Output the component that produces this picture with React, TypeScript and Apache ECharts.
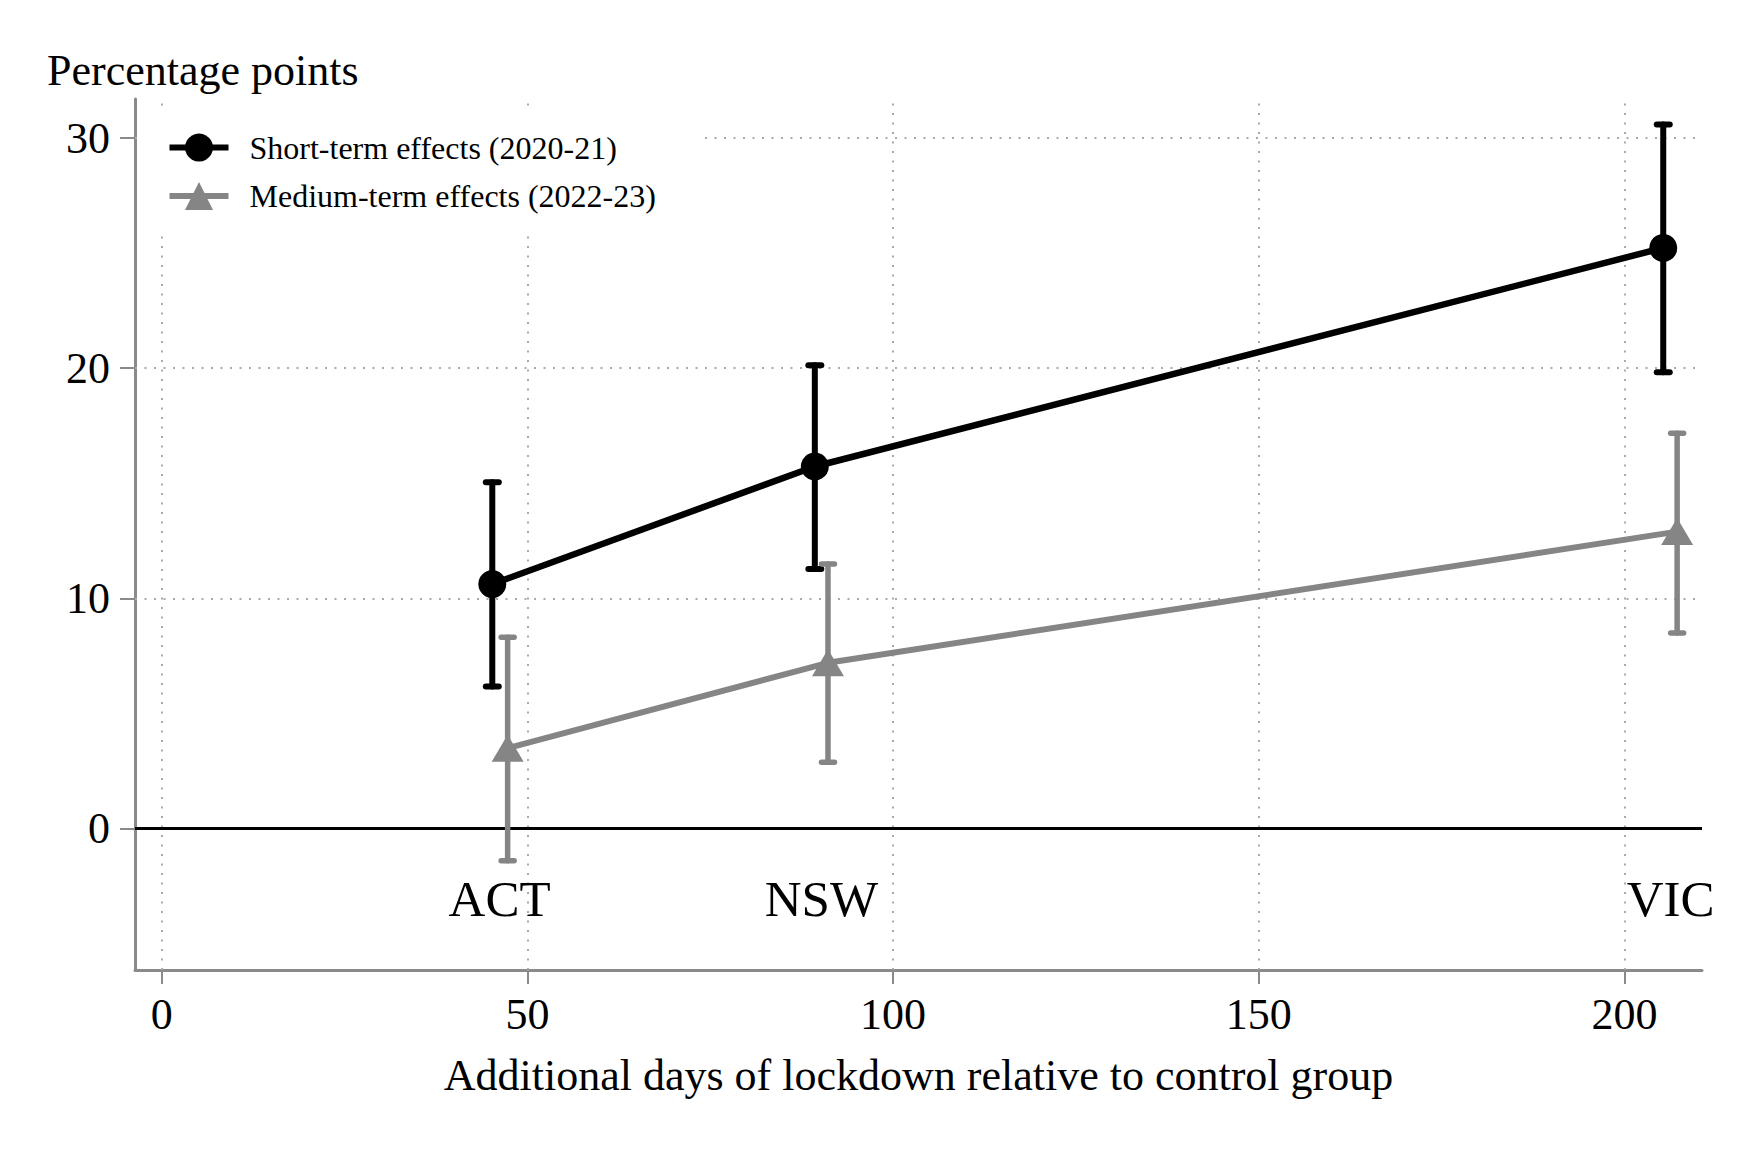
import React, { useEffect, useRef } from "react";
import * as echarts from "echarts";

const FONT = "'Liberation Serif', 'Times New Roman', serif";

const seriesNames = ["Short-term effects (2020-21)", "Medium-term effects (2022-23)"];
const states = ["ACT", "NSW", "VIC"];
const daysShort = [45.2, 89.3, 205.3];
const estShort = [10.62, 15.73, 25.23];
const loShort = [6.17, 11.28, 19.83];
const hiShort = [15.05, 20.13, 30.59];
const daysMedium = [47.3, 91.1, 207.2];
const estMedium = [3.49, 7.2, 12.9];
const loMedium = [-1.4, 2.88, 8.5];
const hiMedium = [8.31, 11.49, 17.18];
const stateLabelX = [46.2, 90.2, 206.3];
const stateLabelY = -3.05;
const xTicks = [0, 50, 100, 150, 200];
const yTicks = [0, 10, 20, 30];
const xGrid = [0, 50, 100, 150, 200];
const yGrid = [10, 20, 30];
const xRange = [-3.65, 210.6];
const yRange = [-6.15, 31.7];

const BLACK = "#000000";
const GRAY = "#858585";
const AXIS = "#8a8a8a";
const GRID = "#aaaaaa";

function errorBarRender(color: string, width: number) {
  return (params: any, api: any) => {
    const x = api.value(0);
    const lo = api.coord([x, api.value(1)]);
    const hi = api.coord([x, api.value(2)]);
    const hw = 6.5;
    const style = { stroke: color, lineWidth: width, lineCap: "round", fill: "none" };
    return {
      type: "group",
      children: [
        { type: "line", shape: { x1: lo[0], y1: lo[1], x2: hi[0], y2: hi[1] }, style },
        { type: "line", shape: { x1: lo[0] - hw, y1: lo[1], x2: lo[0] + hw, y2: lo[1] }, style },
        { type: "line", shape: { x1: hi[0] - hw, y1: hi[1], x2: hi[0] + hw, y2: hi[1] }, style },
      ],
    };
  };
}

export default function App() {
  const ref = useRef<HTMLDivElement>(null);
  useEffect(() => {
    document.body.style.margin = "0";
    document.body.style.overflow = "hidden";
    const chart = echarts.init(ref.current!, null, { renderer: "svg" });
    const gridStyle = { color: GRID, width: 2, type: [2, 7.5] as any };
    chart.setOption({
      animation: false,
      backgroundColor: "#ffffff",
      textStyle: { fontFamily: FONT },
      grid: { left: 135, right: 42, top: 99, bottom: 193, containLabel: false },
      graphic: [
        {
          type: "text",
          left: 47,
          top: 48,
          z: 2,
          style: { text: "Percentage points", font: `44px ${FONT}`, fill: "#000" },
        },
        {
          type: "rect",
          shape: { x: 140, y: 112, width: 563, height: 120 },
          style: { fill: "#ffffff" },
          z: 2,
          silent: true,
        },
      ],
      legend: {
        data: seriesNames,
        orient: "vertical",
        left: 145,
        top: 112,
        itemWidth: 59,
        itemHeight: 35,
        itemGap: 16.5,
        padding: [19.6, 10, 10, 21.5],
        z: 4,
        lineStyle: { width: 6 },
        textStyle: { fontFamily: FONT, fontSize: 32, color: "#000", padding: [0, 0, 0, 16] },
      },
      xAxis: {
        type: "value",
        min: xRange[0],
        max: xRange[1],
        name: "Additional days of lockdown relative to control group",
        nameLocation: "middle",
        nameGap: 83,
        nameTextStyle: { fontFamily: FONT, fontSize: 44, color: "#000" },
        axisLine: { show: true, onZero: false, lineStyle: { color: AXIS, width: 3 } },
        axisTick: { show: true, length: 14, customValues: xTicks, lineStyle: { color: AXIS, width: 2 } },
        axisLabel: { customValues: xTicks, margin: 22, fontFamily: FONT, fontSize: 44, color: "#000" },
        splitLine: { show: false },
      },
      yAxis: {
        type: "value",
        min: yRange[0],
        max: yRange[1],
        axisLine: { show: true, onZero: false, lineStyle: { color: AXIS, width: 3 } },
        axisTick: { show: true, length: 15, customValues: yTicks, lineStyle: { color: AXIS, width: 2 } },
        axisLabel: { customValues: yTicks, margin: 25, fontFamily: FONT, fontSize: 44, color: "#000" },
        splitLine: { show: false },
      },
      series: [
        {
          type: "line",
          name: "grid",
          data: [],
          silent: true,
          markLine: {
            silent: true,
            z: 1,
            symbol: ["none", "none"],
            label: { show: false },
            lineStyle: gridStyle,
            emphasis: { disabled: true },
            data: [
              ...yGrid.map((v) => ({ yAxis: v })),
              ...xGrid.map((v) => ({ xAxis: v })),
            ],
          },
        },
        {
          type: "line",
          name: "zero",
          data: [],
          silent: true,
          markLine: {
            silent: true,
            z: 3,
            symbol: ["none", "none"],
            label: { show: false },
            lineStyle: { color: "#000", width: 3, type: "solid" },
            emphasis: { disabled: true },
            data: [{ yAxis: 0 }],
          },
        },
        {
          type: "custom",
          name: "ci-short",
          renderItem: errorBarRender(BLACK, 6),
          data: daysShort.map((d, i) => [d, loShort[i], hiShort[i]]),
          encode: { x: 0, y: [1, 2] },
          z: 3,
        },
        {
          type: "custom",
          name: "ci-medium",
          renderItem: errorBarRender(GRAY, 5.5),
          data: daysMedium.map((d, i) => [d, loMedium[i], hiMedium[i]]),
          encode: { x: 0, y: [1, 2] },
          z: 3,
        },
        {
          type: "line",
          name: seriesNames[0],
          data: daysShort.map((d, i) => [d, estShort[i]]),
          symbol: "circle",
          symbolSize: 28,
          lineStyle: { color: BLACK, width: 6.5 },
          itemStyle: { color: BLACK },
          z: 4,
        },
        {
          type: "line",
          name: seriesNames[1],
          data: daysMedium.map((d, i) => [d, estMedium[i]]),
          symbol: "triangle",
          symbolSize: [32, 27],
          lineStyle: { color: GRAY, width: 6 },
          itemStyle: { color: GRAY },
          z: 4,
        },
        {
          type: "custom",
          name: "states",
          silent: true,
          clip: false,
          z: 5,
          data: states.map((s, i) => [stateLabelX[i], stateLabelY]),
          encode: { x: 0, y: 1 },
          renderItem: (params: any, api: any) => {
            const p = api.coord([api.value(0), api.value(1)]);
            return {
              type: "text",
              x: p[0],
              y: p[1],
              style: {
                text: states[params.dataIndex],
                font: `51px ${FONT}`,
                fill: "#000000",
                align: "center",
                verticalAlign: "middle",
              },
            };
          },
        },
      ],
    });
    return () => chart.dispose();
  }, []);
  return <div ref={ref} style={{ width: 1744, height: 1163 }} />;
}
